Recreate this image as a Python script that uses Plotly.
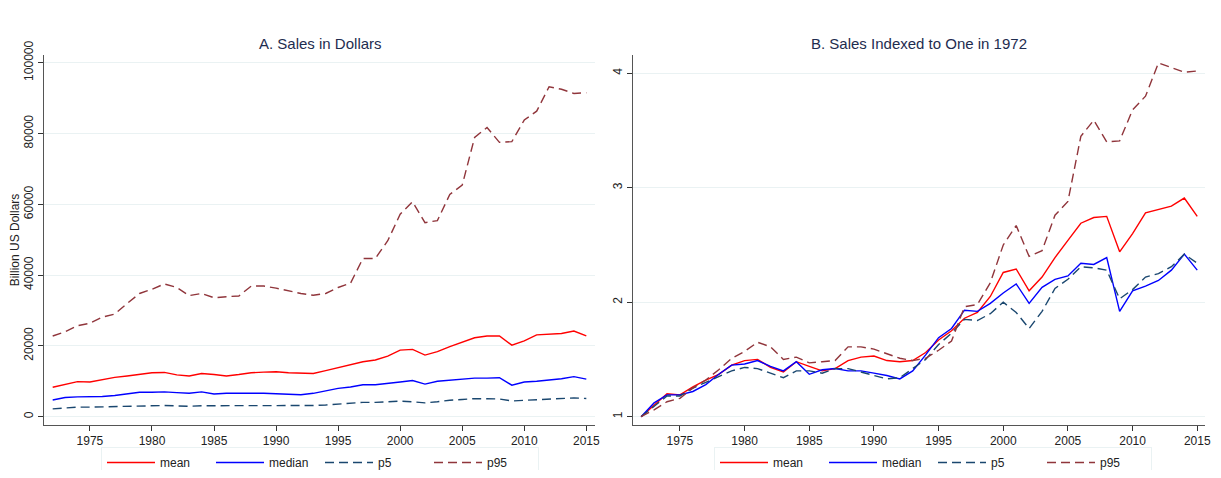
import plotly.graph_objects as go

years = list(range(1972, 2016))

# Panel A: sales in billion US dollars
mean_usd = [8300, 9200, 9900, 9800, 10500, 11100, 11500, 12000, 12400, 12500,
            11800, 11500, 12200, 11900, 11500, 11900, 12400, 12600, 12700, 12400,
            12200, 12200, 13000, 13800, 14500, 15500, 16000, 17100, 18800, 19000,
            17400, 18400, 19800, 21000, 22300, 22800, 22800, 20200, 21400, 23100,
            23200, 23500, 24200, 22800]
median_usd = [4700, 5400, 5600, 5600, 5700, 6000, 6400, 6900, 6900, 7000,
              6800, 6600, 7000, 6400, 6600, 6700, 6600, 6600, 6500, 6400,
              6200, 6600, 7300, 8000, 8400, 9000, 9000, 9300, 9800, 10200,
              9200, 10000, 10300, 10500, 10900, 10900, 11000, 8900, 9800, 10000,
              10300, 10700, 11300, 10600]
p5_usd = [2200, 2500, 2700, 2700, 2800, 2900, 3000, 3100, 3150, 3150,
          3050, 2950, 3100, 3100, 3050, 3150, 3150, 3050, 3000, 2950,
          2950, 3150, 3300, 3600, 3800, 4050, 4050, 4200, 4400, 4200,
          3900, 4200, 4650, 4850, 5100, 5050, 5000, 4450, 4600, 4900,
          4950, 5100, 5300, 5150]
p95_usd = [22800, 24000, 25700, 26400, 28100, 29000, 32000, 34800, 36000, 37500,
           36500, 34200, 34800, 33600, 33900, 34100, 36900, 36900, 36300, 35500,
           34800, 34300, 34800, 36500, 37700, 44700, 44700, 49700, 57200, 60700,
           54800, 55400, 62800, 65400, 78900, 81700, 77500, 77700, 83800, 86300,
           93200, 92500, 91300, 91500]

# Panel B: indexed to 1972
mean_idx = [1.00, 1.10, 1.20, 1.19, 1.26, 1.32, 1.37, 1.45, 1.49, 1.50,
            1.43, 1.39, 1.48, 1.44, 1.40, 1.42, 1.49, 1.52, 1.53, 1.49,
            1.48, 1.49, 1.56, 1.67, 1.75, 1.86, 1.91, 2.05, 2.26, 2.29,
            2.10, 2.22, 2.39, 2.54, 2.69, 2.74, 2.75, 2.44, 2.60, 2.78,
            2.81, 2.84, 2.91, 2.75]
median_idx = [1.00, 1.12, 1.19, 1.19, 1.22, 1.28, 1.37, 1.45, 1.46, 1.49,
              1.44, 1.40, 1.48, 1.37, 1.41, 1.42, 1.40, 1.40, 1.38, 1.36,
              1.33, 1.40, 1.54, 1.69, 1.77, 1.93, 1.92, 1.99, 2.08, 2.16,
              1.99, 2.13, 2.20, 2.23, 2.34, 2.33, 2.39, 1.92, 2.10, 2.14,
              2.19, 2.28, 2.42, 2.28]
p5_idx = [1.00, 1.09, 1.18, 1.18, 1.25, 1.30, 1.35, 1.40, 1.43, 1.42,
          1.38, 1.34, 1.40, 1.40, 1.38, 1.42, 1.42, 1.39, 1.36, 1.33,
          1.34, 1.42, 1.50, 1.63, 1.73, 1.85, 1.84, 1.90, 2.00, 1.91,
          1.77, 1.92, 2.12, 2.20, 2.31, 2.30, 2.28, 2.03, 2.11, 2.22,
          2.25, 2.31, 2.42, 2.34]
p95_idx = [1.00, 1.06, 1.13, 1.16, 1.25, 1.32, 1.41, 1.51, 1.57, 1.65,
           1.61, 1.50, 1.52, 1.47, 1.48, 1.49, 1.61, 1.61, 1.59, 1.55,
           1.51, 1.49, 1.51, 1.58, 1.66, 1.96, 1.98, 2.17, 2.50, 2.67,
           2.40, 2.45, 2.76, 2.88, 3.45, 3.59, 3.40, 3.41, 3.68, 3.80,
           4.09, 4.05, 4.01, 4.02]

SERIES_STYLES = {
    "mean": {"color": "#ff0000", "dash": "solid"},
    "median": {"color": "#0000ff", "dash": "solid"},
    "p5": {"color": "#1a476f", "dash": "9px,5px"},
    "p95": {"color": "#90353b", "dash": "9px,5px"},
}

FONT = "Liberation Sans Narrow, Liberation Sans, Arial, sans-serif"
GRID = "#eaf2f3"
TITLE_COLOR = "#1e2c4f"

fig = go.Figure()

panel_a = {"mean": mean_usd, "median": median_usd, "p5": p5_usd, "p95": p95_usd}
panel_b = {"mean": mean_idx, "median": median_idx, "p5": p5_idx, "p95": p95_idx}

for name, vals in panel_a.items():
    st = SERIES_STYLES[name]
    fig.add_trace(go.Scatter(x=years, y=vals, mode="lines", name=name,
                             line=dict(color=st["color"], dash=st["dash"], width=1.4),
                             xaxis="x", yaxis="y", legend="legend"))

for name, vals in panel_b.items():
    st = SERIES_STYLES[name]
    fig.add_trace(go.Scatter(x=years, y=vals, mode="lines", name=name,
                             line=dict(color=st["color"], dash=st["dash"], width=1.4),
                             xaxis="x2", yaxis="y2", legend="legend2"))

# page body has an 8px margin, so the figure is sized to fit inside it
OFF = 8
W, H = 1221 - 2 * OFF, 478 - 2 * OFF
def px_x(p):
    return (p - OFF) / W
def px_y(p):
    return (H - (p - OFF)) / H

x_common = dict(
    tickvals=list(range(1975, 2016, 5)),
    ticks="outside", ticklen=5, tickcolor="#333",
    showline=True, linecolor="#555", linewidth=1,
    showgrid=False, zeroline=False, automargin=False,
    tickfont=dict(size=12, color="#222", family=FONT),
)
y_common = dict(
    ticks="outside", ticklen=5, tickcolor="#333",
    showline=True, linecolor="#555", linewidth=1,
    showgrid=True, gridcolor=GRID, gridwidth=1, zeroline=False,
    tickangle=-90, tickformat="d", automargin=False,
    tickfont=dict(size=12, color="#222", family=FONT),
)

legend_common = dict(
    orientation="h", xanchor="center", yanchor="top",
    bgcolor="white", bordercolor=GRID, borderwidth=1,
    font=dict(size=12, color="#222", family=FONT),
    entrywidth=46, entrywidthmode="pixels",
    itemwidth=48,
)

fig.update_layout(
    width=W, height=H,
    margin=dict(l=0, r=0, t=0, b=0, autoexpand=False),
    paper_bgcolor="white", plot_bgcolor="white",
    font=dict(family=FONT, size=12, color="#222"),
    xaxis=dict(domain=[px_x(44), px_x(595)], range=[1971.3, 2015.7], anchor="y", **x_common),
    yaxis=dict(domain=[px_y(425), px_y(55)], range=[-2350, 102170], anchor="x",
               tickvals=[0, 20000, 40000, 60000, 80000, 100000],
               title=dict(text="Billion US Dollars", font=dict(size=12, color="#222"), standoff=4),
               **y_common),
    xaxis2=dict(domain=[px_x(633), px_x(1205)], range=[1971.37, 2015.6], anchor="y2", **x_common),
    yaxis2=dict(domain=[px_y(425), px_y(55)], range=[0.927, 4.16], anchor="x2",
                tickvals=[1, 2, 3, 4], **y_common),
    legend=dict(x=px_x(320), y=px_y(447), **legend_common),
    legend2=dict(x=px_x(933), y=px_y(447), **legend_common),
    annotations=[
        dict(text="A. Sales in Dollars", x=px_x(320), y=px_y(43), xref="paper", yref="paper",
             xanchor="center", yanchor="middle", showarrow=False,
             font=dict(size=15, color=TITLE_COLOR, family=FONT)),
        dict(text="B. Sales Indexed to One in 1972", x=px_x(919), y=px_y(43), xref="paper", yref="paper",
             xanchor="center", yanchor="middle", showarrow=False,
             font=dict(size=15, color=TITLE_COLOR, family=FONT)),
    ],
)

fig.write_html("out.html")
